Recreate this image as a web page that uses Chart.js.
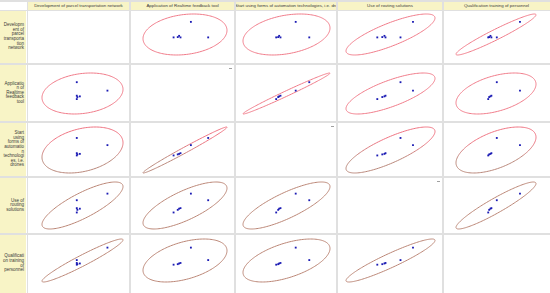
<!DOCTYPE html>
<html>
<head>
<meta charset="utf-8">
<script src="https://cdn.jsdelivr.net/npm/chart.js@4.4.1/dist/chart.umd.min.js"></script>
<style>
body { margin:0; width:550px; height:293px; overflow:hidden; background:#fff; font-family:"Liberation Sans", Arial, sans-serif; }
#m { position:relative; width:550px; height:293px; }
.hd { position:absolute; background:#f8f4c6; color:#3a3a3a; font-size:4.4px; line-height:8px; text-align:center; white-space:nowrap; overflow:hidden; }
.rl { position:absolute; background:#f8f4c6; color:#3a3a3a; font-size:4.5px; line-height:4.6px; text-align:right; display:flex; flex-direction:column; justify-content:center; align-items:flex-end; padding-right:2px; box-sizing:border-box; }
.g { position:absolute; background:#e0e0e0; }
.mk { position:absolute; width:3px; height:1px; background:#a0a0a0; }
canvas { position:absolute; }
</style>
</head>
<body>
<div id="m"></div>
<script>
// variables of the matrix (columns = x, rows = y)
const variables = [
  'Development of parcel transportation network',
  'Application of Realtime feedback tool',
  'Start using forms of automation technologies, i.e. drones',
  'Use of routing solutions',
  'Qualification training of personnel'
];
const rowLabelLines = [
  ['Developm', 'ent of', 'parcel', 'transporta', 'tion', 'network'],
  ['Applicatio', 'n of', 'Realtime', 'feedback', 'tool'],
  ['Start', 'using', 'forms of', 'automatio', 'n', 'technologi', 'es, i.e.', 'drones'],
  ['Use of', 'routing', 'solutions'],
  ['Qualificati', 'on training', 'of', 'personnel']
];

const development   = [1.00, 0.00, 0.00, 0.02, 0.10, 0.00];
const application   = [0.50, 1.00, 0.00, 0.12, 0.16, 0.20];
const automation    = [0.59, 1.00, 0.00, 0.06, 0.09, 0.13];
const routing       = [1.00, 0.65, 0.00, 0.14, 0.20, 0.23];
const qualification = [1.00, 0.27, 0.00, 0.03, 0.07, 0.10];
const series = [development, application, automation, routing, qualification];

const ELLIPSE_K = 3.3; // size of the prediction ellipse in standard deviations

// layout
const colEdges = [27, 130, 235, 337, 443, 550];
const rowEdges = [10, 64, 122, 177, 234, 293];
const padL = [15, 13, 8, 9, 13], padR = [7, 8, 7, 8, 14];
const padT = [3, 9, 5, 5, 5], padB = [9, 8, 4, 5, 11];
const rowColors = ['#f07b89', '#f07b89', ['#ef7381', '#b9877a'], '#bb8676', '#bb8676'];

const root = document.getElementById('m');
function box(cls, x, y, w, h) {
  const d = document.createElement('div');
  d.className = cls;
  Object.assign(d.style, { left: x + 'px', top: y + 'px', width: w + 'px', height: h + 'px' });
  root.appendChild(d);
  return d;
}

// top strip, headers, row labels
box('g', 0, 0, 550, 2);
variables.forEach((v, j) => {
  const d = box('hd', colEdges[j], 2, colEdges[j + 1] - colEdges[j], 8);
  d.textContent = v;
});
rowLabelLines.forEach((lines, i) => {
  const d = box('rl', 0, rowEdges[i], colEdges[0] - 1, rowEdges[i + 1] - rowEdges[i]);
  lines.forEach(t => { const s = document.createElement('div'); s.textContent = t; d.appendChild(s); });
});

function stats(a) {
  const n = a.length, m = a.reduce((s, v) => s + v, 0) / n;
  return { m, n };
}
function cov(a, b) {
  const ma = stats(a).m, mb = stats(b).m;
  let s = 0;
  for (let i = 0; i < a.length; i++) s += (a[i] - ma) * (b[i] - mb);
  return s / (a.length - 1);
}

const ellipsePlugin = {
  id: 'ellipse',
  beforeDatasetsDraw(chart, args, e) {
    const { ctx, scales: { x, y }, chartArea } = chart;
    ctx.save();
    ctx.beginPath();
    for (let s = 0; s <= 160; s++) {
      const t = s / 160 * Math.PI * 2, u = Math.cos(t), v = Math.sin(t);
      const px = x.getPixelForValue(e.mx + e.k * e.l11 * u);
      const py = y.getPixelForValue(e.my + e.k * (e.l21 * u + e.l22 * v));
      s ? ctx.lineTo(px, py) : ctx.moveTo(px, py);
    }
    ctx.closePath();
    if (Array.isArray(e.color)) {
      const gr = ctx.createLinearGradient(0, chartArea.top, 0, chartArea.bottom);
      gr.addColorStop(0.3, e.color[0]);
      gr.addColorStop(0.7, e.color[1]);
      ctx.strokeStyle = gr;
    } else ctx.strokeStyle = e.color;
    ctx.lineWidth = 1;
    ctx.stroke();
    ctx.restore();
  }
};

for (let i = 0; i < 5; i++) {
  for (let j = 0; j < 5; j++) {
    const x0 = colEdges[j], y0 = rowEdges[i];
    const w = colEdges[j + 1] - x0, h = rowEdges[i + 1] - y0;
    if (i === j) {
      if (i > 0 && i < 4) box('mk', colEdges[j + 1] - 6, y0 + 4, 3, 1);
      continue;
    }
    const xs = series[j], ys = series[i];
    const mx = stats(xs).m, my = stats(ys).m;
    const sxx = cov(xs, xs), syy = cov(ys, ys), sxy = cov(xs, ys);
    const l11 = Math.sqrt(sxx), l21 = sxy / l11, l22 = Math.sqrt(Math.max(syy - l21 * l21, 0));
    const hx = ELLIPSE_K * Math.sqrt(sxx), hy = ELLIPSE_K * Math.sqrt(syy);

    const cv = document.createElement('canvas');
    cv.width = w; cv.height = h;
    cv.style.left = x0 + 'px'; cv.style.top = y0 + 'px';
    cv.style.width = w + 'px'; cv.style.height = h + 'px';
    root.appendChild(cv);

    new Chart(cv, {
      type: 'scatter',
      data: {
        datasets: [{
          data: xs.map((v, k) => ({ x: v, y: ys[k] })),
          pointStyle: 'rect', pointRadius: 1.3,
          backgroundColor: '#1c1cb4', borderColor: '#1c1cb4', borderWidth: 0
        }]
      },
      options: {
        responsive: false, animation: false, events: [],
        layout: { padding: { left: padL[j], right: padR[j], top: padT[i], bottom: padB[i] } },
        scales: {
          x: { display: false, min: mx - hx, max: mx + hx },
          y: { display: false, min: my - hy, max: my + hy }
        },
        plugins: {
          legend: { display: false }, tooltip: { enabled: false },
          ellipse: { mx, my, l11, l21, l22, k: ELLIPSE_K, color: rowColors[i] }
        }
      },
      plugins: [ellipsePlugin]
    });
  }
}

// grid lines
colEdges.slice(0, 5).forEach((x, j) => box('g', x - (j ? 1 : 0), 2, j ? 2 : 1, 291));
rowEdges.slice(0, 5).forEach((y, i) => box('g', 0, y - (i ? 1 : 0), 550, i ? 2 : 1));
</script>
</body>
</html>
